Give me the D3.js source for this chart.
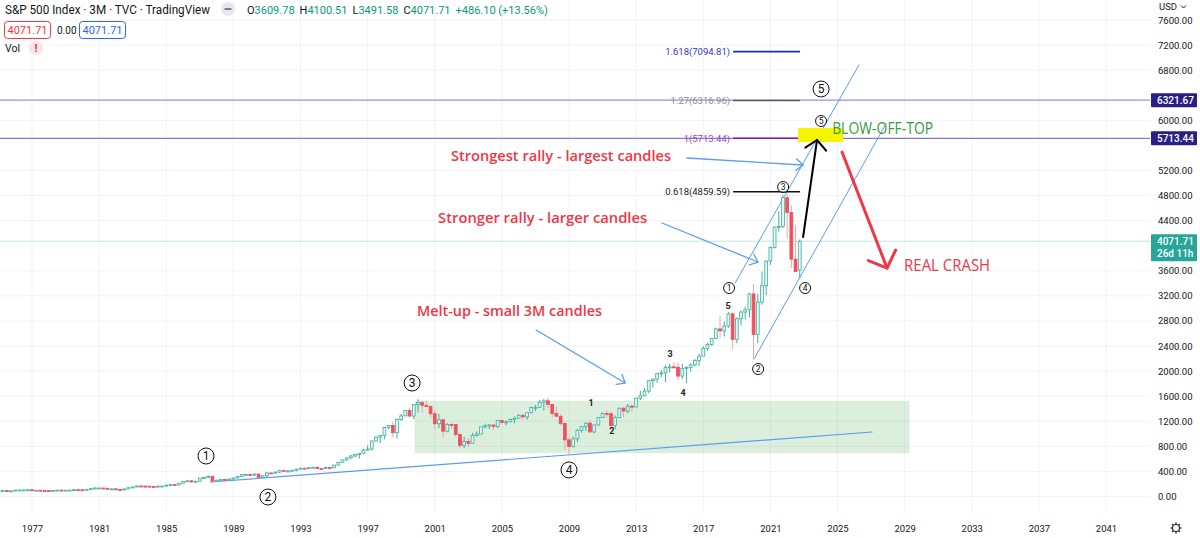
<!DOCTYPE html>
<html><head><meta charset="utf-8">
<script src="https://cdn.jsdelivr.net/npm/d3@7"></script>
<style>
body{margin:0;background:#fff;}
svg{display:block;font-family:Roboto,"Noto Sans",sans-serif;}
</style>
</head><body>
<svg id="c" width="1200" height="538"></svg>
<script>
// ---------------- DATA ----------------
const years = [1975,1976,1977,1978,1979,1980,1981,1982,1983,1984,1985,1986,1987,1988,1989,1990,1991,1992,1993,1994,1995,1996,1997,1998,1999,2000,2001,2002,2003,2004,2005,2006,2007,2008,2009,2010,2011,2012,2013,2014,2015,2016,2017,2018,2019,2020,2021,2022];
// quarterly OHLC, four quarters per year
const opens = [
68.56,83.36,95.19,83.87, 90.19,102.77,104.28,105.24, 107.46,98.42,100.48,96.53, 95.10,89.21,95.53,102.54,
96.11,101.59,102.91,109.32, 107.94,102.09,114.24,125.46, 135.76,136.00,131.21,116.18, 122.55,111.96,109.61,120.42,
140.64,152.96,168.11,166.07, 164.93,159.18,153.18,166.10, 167.24,180.66,191.85,182.08, 211.28,238.90,250.84,231.32,
242.17,291.70,304.00,321.83, 247.08,258.89,273.50,271.91, 277.72,294.87,317.98,349.15, 353.40,339.94,358.02,306.05,
330.22,375.22,371.16,387.86, 417.09,403.69,408.14,417.80, 435.71,451.67,450.53,458.93, 466.45,445.77,444.27,462.69,
459.27,500.71,544.75,584.41, 615.93,645.50,670.63,687.31, 740.74,757.12,885.14,947.28, 970.43,1101.75,1133.84,1017.01,
1229.23,1286.37,1372.71,1282.71, 1469.25,1498.58,1454.60,1436.51, 1320.28,1160.33,1224.42,1040.94, 1148.08,1147.39,989.82,815.28,
879.82,848.18,974.50,995.97, 1111.92,1126.21,1140.84,1114.58, 1211.92,1180.59,1191.33,1228.81, 1248.29,1294.83,1270.20,1335.85,
1418.30,1420.86,1503.35,1526.75, 1468.36,1322.70,1280.00,1166.36, 903.25,797.87,919.32,1057.08, 1115.10,1169.43,1030.71,1141.20,
1257.64,1325.83,1320.64,1131.42, 1257.60,1408.47,1362.16,1440.67, 1426.19,1569.19,1606.28,1681.55, 1848.36,1872.34,1960.23,1972.29,
2058.90,2067.89,2063.11,1920.03, 2043.94,2059.74,2098.86,2168.27, 2238.83,2362.72,2423.41,2519.36, 2673.61,2640.87,2718.37,2913.98,
2506.85,2834.40,2941.76,2976.74, 3230.78,2584.59,3100.29,3363.00, 3756.07,3972.89,4297.50,4307.54, 4766.18,4530.41,3785.38,3609.78];
const highs = [
86.9,96.6,95.6,92.0, 103.0,104.3,108.0,107.8, 107.5,101.3,101.0,96.9, 95.1,99.6,106.3,103.0,
103.0,103.6,110.5,110.2, 118.5,116.0,127.4,141.9, 137.5,136.6,133.9,126.4, 122.6,119.3,124.9,143.0,
153.7,170.0,172.7,172.7, 169.5,162.8,168.7,170.4, 183.4,192.0,196.0,212.0, 238.9,254.0,254.9,254.0,
302.0,306.0,337.9,328.9, 270.0,275.0,275.0,285.0, 300.0,326.0,355.0,361.0, 360.0,369.0,369.0,333.0,
390.0,392.0,396.0,420.0, 420.0,418.0,426.0,442.0, 456.0,455.0,463.0,471.0, 482.0,455.0,476.0,473.0,
504.0,552.0,587.0,622.0, 663.0,681.0,690.0,762.0, 817.0,895.0,961.0,987.0, 1110.0,1138.0,1190.0,1245.0,
1317.0,1375.0,1421.0,1474.0, 1553.0,1528.0,1531.0,1454.0, 1383.0,1316.0,1227.0,1173.0, 1176.0,1147.0,993.0,954.0,
935.0,1015.0,1040.0,1112.0, 1163.0,1150.0,1140.0,1217.0, 1229.0,1217.0,1246.0,1275.0, 1311.0,1326.0,1340.0,1431.0,
1461.0,1540.0,1556.0,1576.0, 1471.0,1440.0,1313.0,1167.0, 944.0,956.0,1080.0,1119.0, 1180.0,1220.0,1149.0,1263.0,
1344.0,1371.0,1357.0,1292.0, 1419.0,1422.0,1475.0,1465.0, 1574.0,1687.0,1730.0,1849.0, 1884.0,1968.0,2019.0,2093.0,
2119.0,2135.0,2133.0,2116.0, 2075.0,2121.0,2194.0,2277.0, 2401.0,2454.0,2520.0,2695.0, 2873.0,2791.0,2941.0,2940.0,
2860.0,2964.0,3028.0,3247.0, 3394.0,3233.0,3588.0,3760.0, 3983.0,4302.0,4546.0,4808.0, 4819.0,4637.0,4325.0,4100.51];
const lows = [
70.0,80.1,82.1,83.2, 90.1,98.5,101.5,98.3, 98.2,97.0,95.9,90.7, 86.9,88.5,94.7,92.5,
96.1,98.1,101.6,99.9, 98.2,99.8,113.7,124.4, 128.7,128.2,115.6,113.8, 107.3,107.2,101.4,120.3,
138.3,151.7,159.2,162.0, 153.6,147.2,148.4,160.5, 163.3,177.0,180.5,181.3, 203.5,228.8,228.8,229.0,
242.2,278.0,303.0,216.5, 242.0,253.0,256.0,269.0, 275.0,294.0,317.0,331.0, 322.0,326.0,295.0,294.0,
311.0,366.0,370.0,375.0, 401.0,394.0,407.0,402.0, 426.0,436.0,441.0,457.0, 436.0,435.0,443.0,445.0,
457.0,497.0,542.0,571.0, 597.0,627.0,605.0,681.0, 733.0,733.0,881.0,855.0, 912.0,1074.0,940.0,923.0,
1205.0,1281.0,1268.0,1233.0, 1339.0,1339.0,1421.0,1254.0, 1081.0,1091.0,945.0,1026.0, 1074.0,953.0,775.0,768.0,
789.0,847.0,960.0,995.0, 1087.0,1076.0,1060.0,1090.0, 1163.0,1137.0,1183.0,1168.0, 1245.0,1219.0,1224.0,1327.0,
1364.0,1416.0,1370.0,1406.0, 1257.0,1272.0,1133.0,741.0, 667.0,783.0,869.0,1020.0, 1044.0,1011.0,1010.0,1131.0,
1249.0,1259.0,1074.0,1075.0, 1258.0,1267.0,1325.0,1343.0, 1426.0,1536.0,1604.0,1646.0, 1738.0,1814.0,1905.0,1821.0,
1981.0,2048.0,1867.0,1872.0, 1810.0,1992.0,2074.0,2084.0, 2245.0,2322.0,2405.0,2520.0, 2533.0,2553.0,2691.0,2347.0,
2444.0,2729.0,2822.0,2856.0, 2192.0,2447.0,3058.0,3209.0, 3695.0,3954.0,4224.0,4279.0, 4115.0,3637.0,3584.0,3491.58];
const closes = [
83.36,95.19,83.87,90.19, 102.77,104.28,105.24,107.46, 98.42,100.48,96.53,95.10, 89.21,95.53,102.54,96.11,
101.59,102.91,109.32,107.94, 102.09,114.24,125.46,135.76, 136.00,131.21,116.18,122.55, 111.96,109.61,120.42,140.64,
152.96,168.11,166.07,164.93, 159.18,153.18,166.10,167.24, 180.66,191.85,182.08,211.28, 238.90,250.84,231.32,242.17,
291.70,304.00,321.83,247.08, 258.89,273.50,271.91,277.72, 294.87,317.98,349.15,353.40, 339.94,358.02,306.05,330.22,
375.22,371.16,387.86,417.09, 403.69,408.14,417.80,435.71, 451.67,450.53,458.93,466.45, 445.77,444.27,462.69,459.27,
500.71,544.75,584.41,615.93, 645.50,670.63,687.31,740.74, 757.12,885.14,947.28,970.43, 1101.75,1133.84,1017.01,1229.23,
1286.37,1372.71,1282.71,1469.25, 1498.58,1454.60,1436.51,1320.28, 1160.33,1224.42,1040.94,1148.08, 1147.39,989.82,815.28,879.82,
848.18,974.50,995.97,1111.92, 1126.21,1140.84,1114.58,1211.92, 1180.59,1191.33,1228.81,1248.29, 1294.83,1270.20,1335.85,1418.30,
1420.86,1503.35,1526.75,1468.36, 1322.70,1280.00,1166.36,903.25, 797.87,919.32,1057.08,1115.10, 1169.43,1030.71,1141.20,1257.64,
1325.83,1320.64,1131.42,1257.60, 1408.47,1362.16,1440.67,1426.19, 1569.19,1606.28,1681.55,1848.36, 1872.34,1960.23,1972.29,2058.90,
2067.89,2063.11,1920.03,2043.94, 2059.74,2098.86,2168.27,2238.83, 2362.72,2423.41,2519.36,2673.61, 2640.87,2718.37,2913.98,2506.85,
2834.40,2941.76,2976.74,3230.78, 2584.59,3100.29,3363.00,3756.07, 3972.89,4297.50,4307.54,4766.18, 4530.41,3785.38,3585.62,4071.71];

const priceTicks = [0,400,800,1200,1600,2000,2400,2800,3200,3600,4400,4800,5200,6000,6800,7200,7600];
const yearTicks = [1977,1981,1985,1989,1993,1997,2001,2005,2009,2013,2017,2021,2025,2029,2033,2037,2041];
const fibRatios = ["1.618","1.27","1","0.618"];
const fibValues = [7094.81,6316.96,5713.44,4859.59];
const levelLines = [6321.67,5713.44];
const lastPrice = 4071.71;

// ---------------- SETUP ----------------
const svg = d3.select('#c');
const PR = 1150, PB = 512;
const x = d3.scaleLinear().domain([1977,2041]).range([32,1106]);
const y = d3.scaleLinear().domain([0,7600]).range([496.5,20]);
const GREEN = '#3fb0a4', GREENFILL = '#e3f4f1', RED = '#f0505d', REDWICK = '#f6a3aa';
const BLUE = '#5b9cf6';

svg.append('rect').attr('width',1200).attr('height',538).attr('fill','#fff');
svg.append('defs').append('clipPath').attr('id','clip').append('rect')
  .attr('x',0).attr('y',0).attr('width',PR).attr('height',PB);

// grid
const grid = svg.append('g');
grid.selectAll('line.v').data(yearTicks).join('line')
  .attr('x1',d=>x(d)).attr('x2',d=>x(d)).attr('y1',0).attr('y2',PB)
  .attr('stroke','#f0f3fa');
grid.selectAll('line.h').data(priceTicks).join('line')
  .attr('x1',0).attr('x2',PR).attr('y1',d=>y(d)).attr('y2',d=>y(d))
  .attr('stroke','#f0f3fa');

const plot = svg.append('g').attr('clip-path','url(#clip)');

// green box
plot.append('rect')
  .attr('x',x(1999.8)).attr('y',y(1525)).attr('width',x(2029.3)-x(1999.8)).attr('height',y(690)-y(1525))
  .attr('fill','#4caf50').attr('fill-opacity',0.2);

// horizontal level lines full width
const lvlColors = ['#9a92dc','#8a76cc'];
plot.selectAll('line.lvl').data(levelLines).join('line')
  .attr('x1',0).attr('x2',PR).attr('y1',d=>y(d)).attr('y2',d=>y(d))
  .attr('stroke',(d,i)=>lvlColors[i]).attr('stroke-width',1.3);

// current price line
plot.append('line').attr('x1',0).attr('x2',PR).attr('y1',y(lastPrice)).attr('y2',y(lastPrice))
  .attr('stroke','#bfe6e1').attr('stroke-width',1);

// long-term trend line
function seg(g,a,b,color,w){
  return g.append('line').attr('x1',x(a[0])).attr('y1',y(a[1])).attr('x2',x(b[0])).attr('y2',y(b[1]))
    .attr('stroke',color).attr('stroke-width',w).attr('stroke-linecap','round');
}
seg(plot,[1987.61,231],[2027.06,1029],BLUE,1.2);
// channel
seg(plot,[2018.9,3405],[2026.28,6882],BLUE,1);
seg(plot,[2020.03,2193],[2027.9,5950],BLUE,1);

// candles
const data = opens.map((o,i)=>({t: years[Math.floor(i/4)] + (i%4)*0.25, o, h:highs[i], l:lows[i], c:closes[i]}));
const bw = (x(2000.25)-x(2000))*0.68;
const cg = plot.append('g');
cg.selectAll('line.w').data(data).join('line')
  .attr('x1',d=>x(d.t)).attr('x2',d=>x(d.t)).attr('y1',d=>y(d.h)).attr('y2',d=>y(d.l))
  .attr('stroke',d=>d.c>=d.o?GREEN:REDWICK).attr('stroke-width',1);
cg.selectAll('rect.b').data(data).join('rect')
  .attr('x',d=>x(d.t)-bw/2).attr('width',bw)
  .attr('y',d=>y(Math.max(d.o,d.c))).attr('height',d=>Math.max(1,Math.abs(y(d.o)-y(d.c))))
  .attr('fill',d=>d.c>=d.o?GREENFILL:RED)
  .attr('stroke',d=>d.c>=d.o?GREEN:RED).attr('stroke-width',0.8);

// fib levels
const fibColors = ['#2525b8','#555a66','#7b1fa2','#111'];
const fibTextColors = ['#3535c8','#8a8d96','#a23fd0','#222'];
const fg = plot.append('g');
fibValues.forEach((v,i)=>{
  fg.append('line').attr('x1',x(2018.78)).attr('x2',x(2022.77)).attr('y1',y(v)).attr('y2',y(v))
    .attr('stroke',fibColors[i]).attr('stroke-width',1.6);
  fg.append('text').attr('x',x(2018.6)).attr('y',y(v)).attr('dy','0.35em')
    .attr('text-anchor','end').attr('font-size',9.5).attr('fill',fibTextColors[i])
    .text(`${fibRatios[i]}(${v.toFixed(2)})`);
});

// yellow highlight
plot.append('rect').attr('x',x(2022.65)).attr('y',y(5877)).attr('width',x(2025.33)-x(2022.65))
  .attr('height',y(5654)-y(5877)).attr('fill','#f5f500');

// arrows
function arrow(g,a,b,color,w,len,ang){
  const x1=x(a[0]),y1=y(a[1]),x2=x(b[0]),y2=y(b[1]);
  g.append('line').attr('x1',x1).attr('y1',y1).attr('x2',x2).attr('y2',y2)
    .attr('stroke',color).attr('stroke-width',w).attr('stroke-linecap','round');
  const th=Math.atan2(y1-y2,x1-x2);
  const p=[th+ang,th-ang].map(t=>[x2+len*Math.cos(t),y2+len*Math.sin(t)]);
  g.append('path').attr('d',`M${p[0][0]},${p[0][1]}L${x2},${y2}L${p[1][0]},${p[1][1]}`)
    .attr('fill','none').attr('stroke',color).attr('stroke-width',w).attr('stroke-linecap','round').attr('stroke-linejoin','round');
}
const ag = plot.append('g');
arrow(ag,[2016.03,5399],[2022.95,5287],BLUE,1.3,9,0.7);
arrow(ag,[2014.54,4362],[2020.26,3740],BLUE,1.3,9,0.7);
arrow(ag,[2007.04,2656],[2012.34,1810],BLUE,1.3,9,0.7);
arrow(ag,[2022.95,4139],[2023.78,5686],'#000',2,14,0.85);
arrow(ag,[2025.27,5494],[2027.95,3644],'#f23645',3,20,0.82);

// texts
const tg = plot.append('g').style('font-family','"Open Sans","Noto Sans",sans-serif');
const redTexts = [
  {t:'Strongest rally - largest candles', at:[2001.97,5351], w:220},
  {t:'Stronger rally - larger candles', at:[2001.2,4362], w:209},
  {t:'Melt-up - small 3M candles', at:[1999.94,2879], w:185}];
redTexts.forEach(d=>{
  tg.append('text').attr('x',x(d.at[0])).attr('y',y(d.at[1])).attr('font-size',15).attr('font-weight',600)
    .attr('fill','#f23645').attr('textLength',d.w).attr('lengthAdjust','spacingAndGlyphs').text(d.t);
});
tg.append('text').attr('x',x(2024.68)).attr('y',y(5781)).attr('font-size',15.5)
  .attr('fill','#3c9a3c').attr('textLength',101).attr('lengthAdjust','spacingAndGlyphs').text('BLOW-OFF-TOP');
tg.append('text').attr('x',x(2028.97)).attr('y',y(3597)).attr('font-size',15.5).attr('font-weight',500)
  .attr('fill','#f23645').attr('textLength',86).attr('lengthAdjust','spacingAndGlyphs').text('REAL CRASH');

// circled wave labels
const circ = [
  {n:'1',at:[1987.37,646],r:8},{n:'2',at:[1991.06,-8],r:8},{n:'3',at:[1999.65,1810],r:8},
  {n:'4',at:[2009.0,423],r:8},{n:'5',at:[2024.02,6499],r:8},
  {n:'5',at:[2024.02,5989],r:5.5},{n:'3',at:[2021.76,4936],r:5.5},{n:'1',at:[2018.54,3325],r:5.5},
  {n:'2',at:[2020.27,2033],r:5.5},{n:'4',at:[2023.07,3325],r:5.5}];
const cgp = plot.append('g');
circ.forEach(d=>{
  const g=cgp.append('g').attr('transform',`translate(${x(d.at[0])},${y(d.at[1])})`);
  g.append('circle').attr('r',d.r).attr('fill','#fff').attr('fill-opacity',0.6).attr('stroke','#111').attr('stroke-width',1);
  g.append('text').attr('text-anchor','middle').attr('dy','0.36em').attr('font-size',d.r>7?12:8.5)
    .attr('fill','#111').text(d.n);
});
const small = [
  {n:'3',at:[2015.02,2273]},{n:'4',at:[2015.80,1651]},{n:'5',at:[2018.48,3038]},
  {n:'1',at:[2010.31,1491]},{n:'2',at:[2011.56,1045]}];
small.forEach(d=>{
  plot.append('text').attr('x',x(d.at[0])).attr('y',y(d.at[1])).attr('dy','0.35em').attr('text-anchor','middle')
    .attr('font-size',9).attr('font-weight',700).attr('fill','#222').text(d.n);
});

// ---------------- AXES ----------------
const ya = svg.append('g').attr('transform',`translate(${PR},0)`)
  .call(d3.axisRight(y).tickValues(priceTicks).tickFormat(d3.format('.2f')).tickSize(0).tickPadding(8));
ya.select('.domain').remove();
ya.selectAll('text').attr('font-size',9.5).attr('fill','#131722').attr('font-family','Roboto,sans-serif');

const xa = svg.append('g').attr('transform',`translate(0,525)`)
  .call(d3.axisBottom(x).tickValues(yearTicks).tickFormat(d3.format('d')).tickSize(0).tickPadding(0));
xa.select('.domain').remove();
xa.selectAll('text').attr('font-size',9.5).attr('fill','#131722').attr('font-family','Roboto,sans-serif');

// USD label
svg.append('text').attr('x',1159).attr('y',10).attr('font-size',9.5).attr('fill','#131722').text('USD');
svg.append('path').attr('d','M1181,5.5l2.5,2.5l2.5,-2.5').attr('fill','none').attr('stroke','#131722').attr('stroke-width',1);

// price tags
function tag(v,bg,lines){
  const h = lines.length>1?27:14;
  const yc = y(v);
  const g=svg.append('g');
  g.append('rect').attr('x',1151).attr('y',yc-7).attr('width',46).attr('height',h).attr('fill',bg).attr('rx',1);
  lines.forEach((t,i)=>g.append('text').attr('x',1157).attr('y',yc+i*12.5).attr('dy','0.35em')
    .attr('font-size',10).attr('font-weight',500).attr('fill','#fff').text(t));
}
tag(levelLines[0],'#2a1f86',[d3.format('.2f')(levelLines[0])]);
tag(levelLines[1],'#2a1f86',[d3.format('.2f')(levelLines[1])]);
tag(lastPrice,'#26a69a',[d3.format('.2f')(lastPrice),'26d 11h']);

// gear icon
const gear = svg.append('g').attr('transform','translate(1176,528)');
gear.append('circle').attr('r',3.6).attr('fill','none').attr('stroke','#131722').attr('stroke-width',1);
d3.range(8).forEach(i=>{const a=i*Math.PI/4;
  gear.append('line').attr('x1',3.6*Math.cos(a)).attr('y1',3.6*Math.sin(a)).attr('x2',5.4*Math.cos(a)).attr('y2',5.4*Math.sin(a))
  .attr('stroke','#131722').attr('stroke-width',1.3);});

// ---------------- HEADER ----------------
const hd = svg.append('g');
hd.append('text').attr('x',5).attr('y',14).attr('font-size',12.5).attr('fill','#131722')
  .attr('textLength',205).attr('lengthAdjust','spacingAndGlyphs').text('S&P 500 Index · 3M · TVC · TradingView');
hd.append('circle').attr('cx',228).attr('cy',9).attr('r',7).attr('fill','#e6e8ee');
hd.append('rect').attr('x',224.5).attr('y',8).attr('width',7).attr('height',2).attr('fill','#7a7d86');
const ohlc = [['O','3609.78'],['H','4100.51'],['L','3491.58'],['C','4071.71']];
const ot = hd.append('text').attr('x',247).attr('y',14).attr('font-size',11);
ohlc.forEach((p,i)=>{
  ot.append('tspan').attr('fill','#131722').attr('dx',i?5:0).text(p[0]);
  ot.append('tspan').attr('fill','#089981').text(p[1]);
});
ot.append('tspan').attr('fill','#089981').attr('dx',5).text('+486.10 (+13.56%)');

hd.append('rect').attr('x',4.5).attr('y',21.5).attr('width',46).attr('height',17).attr('rx',3).attr('fill','#fff').attr('stroke','#f23645');
hd.append('text').attr('x',27.5).attr('y',30).attr('dy','0.35em').attr('text-anchor','middle').attr('font-size',11).attr('fill','#f23645').text('4071.71');
hd.append('text').attr('x',57).attr('y',30).attr('dy','0.35em').attr('font-size',10).attr('fill','#131722').text('0.00');
hd.append('rect').attr('x',79.5).attr('y',21.5).attr('width',46).attr('height',17).attr('rx',3).attr('fill','#fff').attr('stroke','#2962ff');
hd.append('text').attr('x',102.5).attr('y',30).attr('dy','0.35em').attr('text-anchor','middle').attr('font-size',11).attr('fill','#2962ff').text('4071.71');
hd.append('text').attr('x',5).attr('y',48).attr('dy','0.35em').attr('font-size',10.5).attr('fill','#131722').text('Vol');
hd.append('circle').attr('cx',36).attr('cy',48).attr('r',7).attr('fill','#fde3e6');
hd.append('text').attr('x',36).attr('y',48).attr('dy','0.36em').attr('text-anchor','middle').attr('font-size',11).attr('font-weight',700).attr('fill','#f23645').text('!');
</script>
</body></html>
